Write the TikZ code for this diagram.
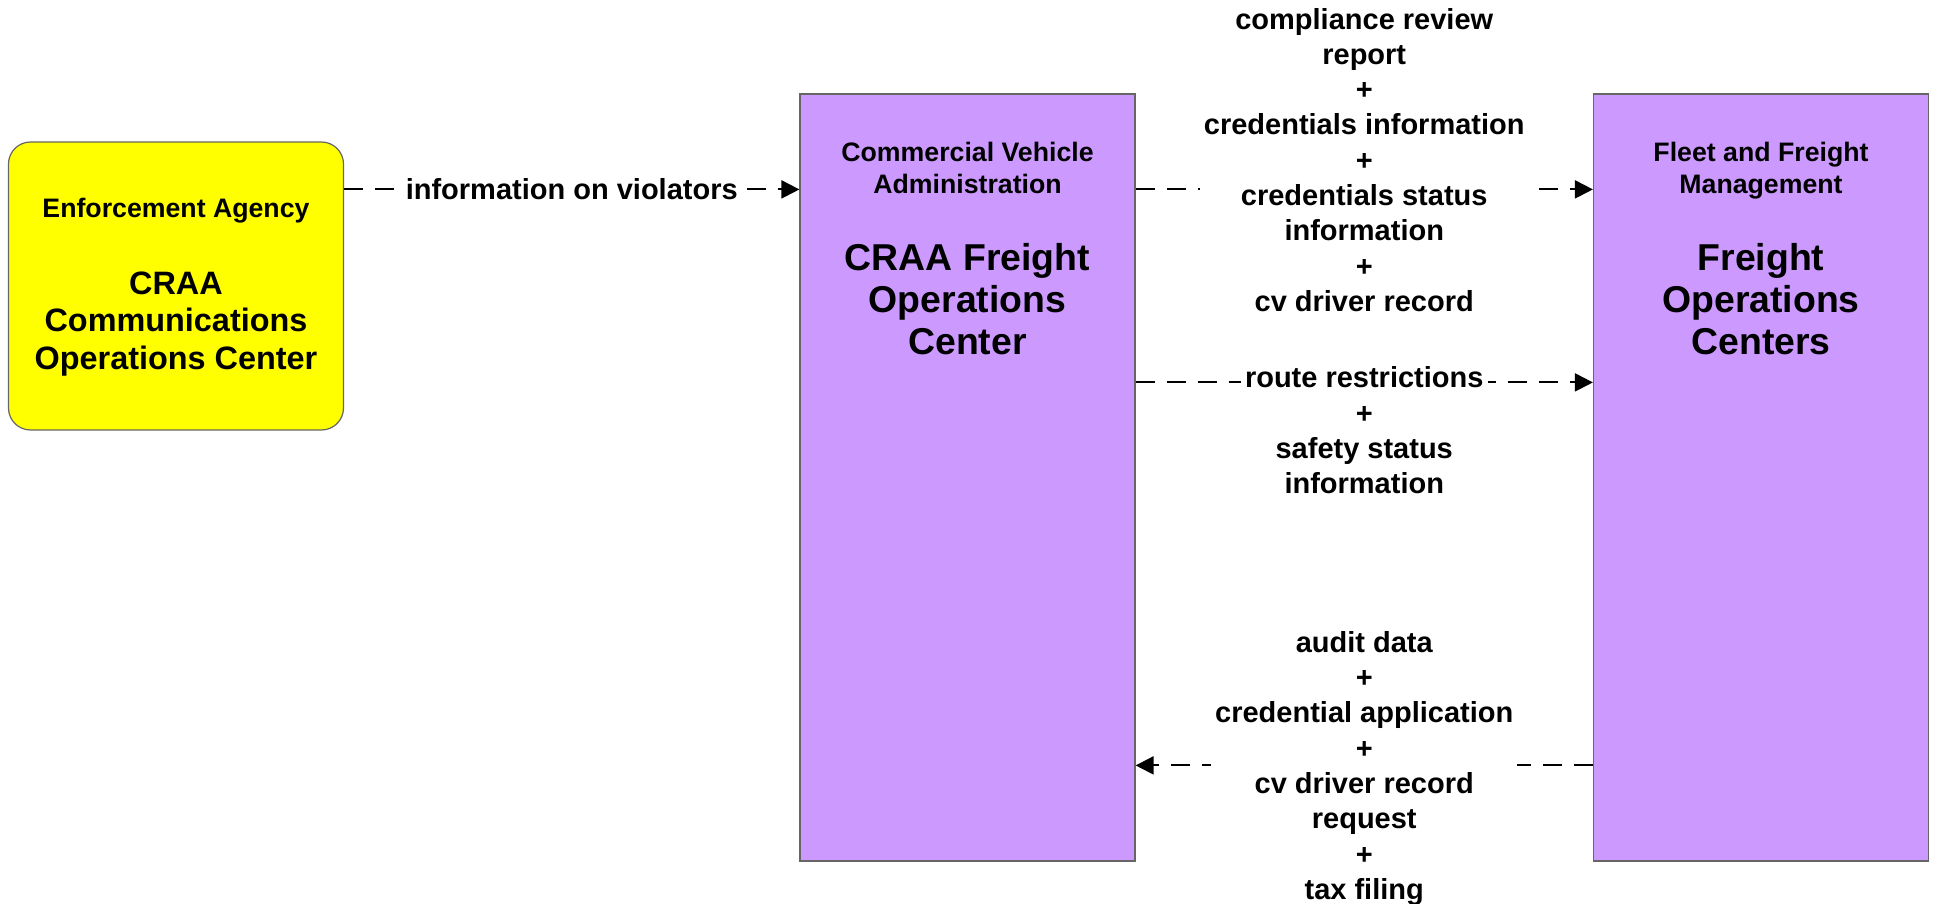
\documentclass[tikz,border=0pt]{standalone}
\usepackage{fontspec}
\setmainfont{Liberation Sans}
\usetikzlibrary{arrows.meta,positioning}
\definecolor{cvpurple}{HTML}{CC99FF}
\definecolor{eayellow}{HTML}{FFFF00}

\begin{document}
\begin{tikzpicture}[
  x=1pt, y=-1pt,
  term/.style={draw=black!60, line width=1.2pt, inner sep=0pt},
  agency/.style={term, fill=eayellow, rounded corners=22pt,
    minimum width=335pt, minimum height=288pt},
  center box/.style={term, fill=cvpurple, minimum width=335pt, minimum height=767pt},
  smalltitle/.style={font=\fontsize{26.7}{32}\selectfont\bfseries, align=center},
  bigtitle/.style={font=\fontsize{37.4}{42}\selectfont\bfseries, align=center},
  flowtxt/.style={font=\fontsize{29}{35.3}\selectfont\bfseries, align=center,
    fill=white, inner sep=4pt},
  flow/.style={line width=2pt, dash pattern=on 19pt off 12pt,
    -{Triangle[length=18pt, width=18pt]}}
]
\useasboundingbox (0,0) rectangle (1937,904);

% terminators
\node [agency] (ea) at (176,286) {};
\node [smalltitle] (eatype) at (176,211) {Enforcement Agency};
\node [font=\fontsize{32.4}{37.5}\selectfont\bfseries, align=center] (eaname) at (176,324)
  {CRAA\\Communications\\Operations Center};

\node [center box] (cva) at (967.5,477.5) {};
\node [smalltitle] (cvatype) at (967.5,168) {Commercial Vehicle\\Administration};
\node [bigtitle] (cvaname) at (967.5,299) {CRAA Freight\\Operations\\Center};

\node [center box] (ffm) at (1761,477.5) {};
\node [smalltitle] (ffmtype) at (1761,171) {Fleet and Freight\\Management};
\node [bigtitle] (ffmname) at (1761,299) {Freight\\Operations\\Centers};

% flows
\draw [flow] ([yshift=-48pt]ea.north east) --
  node [flowtxt, inner sep=2pt] {information on violators} ([yshift=-96pt]cva.north west);
\draw [flow] ([yshift=-96pt]cva.north east) --
  node [flowtxt, yshift=29.5pt] {compliance review\\report\\+\\credentials information\\+\\credentials status\\information\\+\\cv driver record}
  ([yshift=-96pt]ffm.north west);
\draw [flow] ([yshift=-289pt]cva.north east) --
  node [flowtxt, yshift=-48pt] {route restrictions\\+\\safety status\\information}
  ([yshift=-289pt]ffm.north west);
\draw [flow] ([yshift=-672pt]ffm.north west) --
  node [flowtxt, yshift=-3pt] {audit data\\+\\credential application\\+\\cv driver record\\request\\+\\tax filing}
  ([yshift=-672pt]cva.north east);
\end{tikzpicture}
\end{document}
